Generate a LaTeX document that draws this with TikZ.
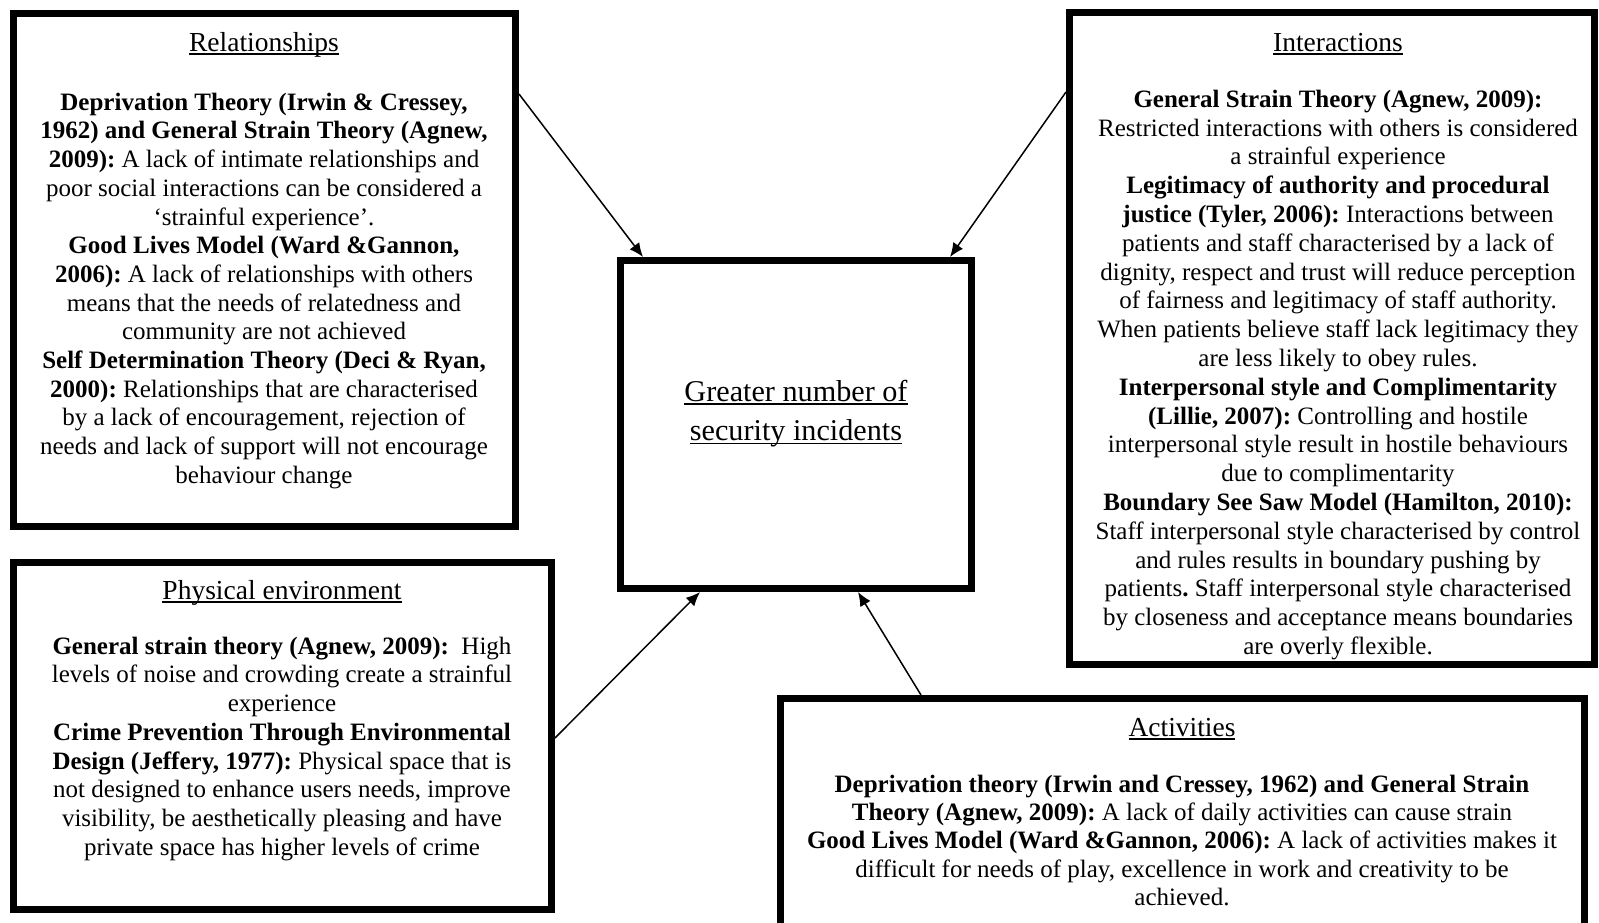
\documentclass[tikz,border=0pt]{standalone}
\usepackage{fontspec}
\setmainfont{Liberation Serif}
\usetikzlibrary{arrows.meta}
% underline at a fixed distance below the baseline
\newcommand\ulbox[1]{\setbox0=\hbox{#1}\rlap{\rule[-0.125em]{\wd0}{0.05em}}\box0}
% first-line strut so that a node's north edge sits a known distance above its first baseline
\newcommand\firstline[1]{\rule{0pt}{#1}}

\begin{document}
\begin{tikzpicture}[x=1pt,y=-1pt,
  panel/.style={draw, line width=7pt, inner sep=0pt, anchor=north west},
  body/.style={align=center, inner sep=0pt, anchor=north, font=\fontsize{25}{28.7}\selectfont\frenchspacing},
  heading/.style={inner sep=0pt, anchor=north, font=\fontsize{27.5}{32}\selectfont},
  arr/.style={line width=1.5pt, -{Latex[length=14pt,width=12pt]}}]

\useasboundingbox (0,0) rectangle (1599,922);
\clip (0,0) rectangle (1599,922);
\fill[white] (0,0) rectangle (1599,922);

% ---- boxes ----
\node[panel, minimum width=502pt, minimum height=513pt] (rel) at (10,10) {};
\node[panel, minimum width=525pt, minimum height=652pt] (int) at (1066,9) {};
\node[panel, minimum width=351pt, minimum height=328pt] (ctr) at (617,257) {};
\node[panel, minimum width=538pt, minimum height=347pt] (phy) at (10,559) {};
\node[panel, minimum width=804pt, minimum height=253pt] (act) at (777,695) {};

% ---- Relationships ----
\node[heading] (relT) at (264,29) {\firstline{22pt}\ulbox{Relationships}};
\node[body] (relB) at (264,90) {\firstline{20pt}\textbf{Deprivation Theory (Irwin \& Cressey,}\\
\textbf{1962) and General Strain Theory (Agnew,}\\
\textbf{2009):} A lack of intimate relationships and\\
poor social interactions can be considered a\\
‘strainful experience’.\\
\textbf{Good Lives Model (Ward \&Gannon,}\\
\textbf{2006):} A lack of relationships with others\\
means that the needs of relatedness and\\
community are not achieved\\
\textbf{Self Determination Theory (Deci \& Ryan,}\\
\textbf{2000):} Relationships that are characterised\\
by a lack of encouragement, rejection of\\
needs and lack of support will not encourage\\
behaviour change};

% ---- Interactions ----
\node[heading] (intT) at (1338,29) {\firstline{22pt}\ulbox{Interactions}};
\begin{scope}
\clip ([shift={(7,7)}]int.north west) rectangle ([shift={(-7,-7)}]int.south east);
\node[body, font=\fontsize{25}{28.8}\selectfont\frenchspacing] (intB) at (1338,87) {\firstline{20pt}\textbf{General Strain Theory (Agnew, 2009):}\\
Restricted interactions with others is considered\\
a strainful experience\\
\textbf{Legitimacy of authority and procedural}\\
\textbf{justice (Tyler, 2006):} Interactions between\\
patients and staff characterised by a lack of\\
dignity, respect and trust will reduce perception\\
of fairness and legitimacy of staff authority.\\
When patients believe staff lack legitimacy they\\
are less likely to obey rules.\\
\textbf{Interpersonal style and Complimentarity}\\
\textbf{(Lillie, 2007):} Controlling and hostile\\
interpersonal style result in hostile behaviours\\
due to complimentarity\\
\textbf{Boundary See Saw Model (Hamilton, 2010):}\\
Staff interpersonal style characterised by control\\
and rules results in boundary pushing by\\
patients\textbf{.} Staff interpersonal style characterised\\
by closeness and acceptance means boundaries\\
are overly flexible.};
\end{scope}

% ---- Greater number of security incidents ----
\node[align=center, inner sep=0pt, anchor=north, font=\fontsize{30.2}{39.5}\selectfont] (ctrT) at (796,376)
  {\firstline{25pt}\ulbox{Greater number of}\\\ulbox{security incidents}};

% ---- Physical environment ----
\node[heading] (phyT) at (282,577) {\firstline{22pt}\ulbox{Physical environment}};
\node[body] (phyB) at (282,634) {\firstline{20pt}\textbf{General strain theory (Agnew, 2009):}\ \ High\\
levels of noise and crowding create a strainful\\
experience\\
\textbf{Crime Prevention Through Environmental}\\
\textbf{Design (Jeffery, 1977):} Physical space that is\\
not designed to enhance users needs, improve\\
visibility, be aesthetically pleasing and have\\
private space has higher levels of crime};

% ---- Activities ----
\node[heading] (actT) at (1182,714) {\firstline{22pt}\ulbox{Activities}};
\node[body, font=\fontsize{25}{28.3}\selectfont\frenchspacing] (actB) at (1182,772) {\firstline{20pt}\textbf{Deprivation theory (Irwin and Cressey, 1962) and General Strain}\\
\textbf{Theory (Agnew, 2009):} A lack of daily activities can cause strain\\
\textbf{Good Lives Model (Ward \&Gannon, 2006):} A lack of activities makes it\\
difficult for needs of play, excellence in work and creativity to be\\
achieved.};

% ---- connectors ----
\draw[arr] (rel.east |- 0,94) -- (ctr.north -| 643,0);
\draw[arr] (int.west |- 0,92) -- (ctr.north -| 950,0);
\draw[arr] (phy.east |- 0,738) -- (ctr.south -| 700,0);
\draw[arr] (act.north -| 921,0) -- (ctr.south -| 858,0);

\end{tikzpicture}
\end{document}
